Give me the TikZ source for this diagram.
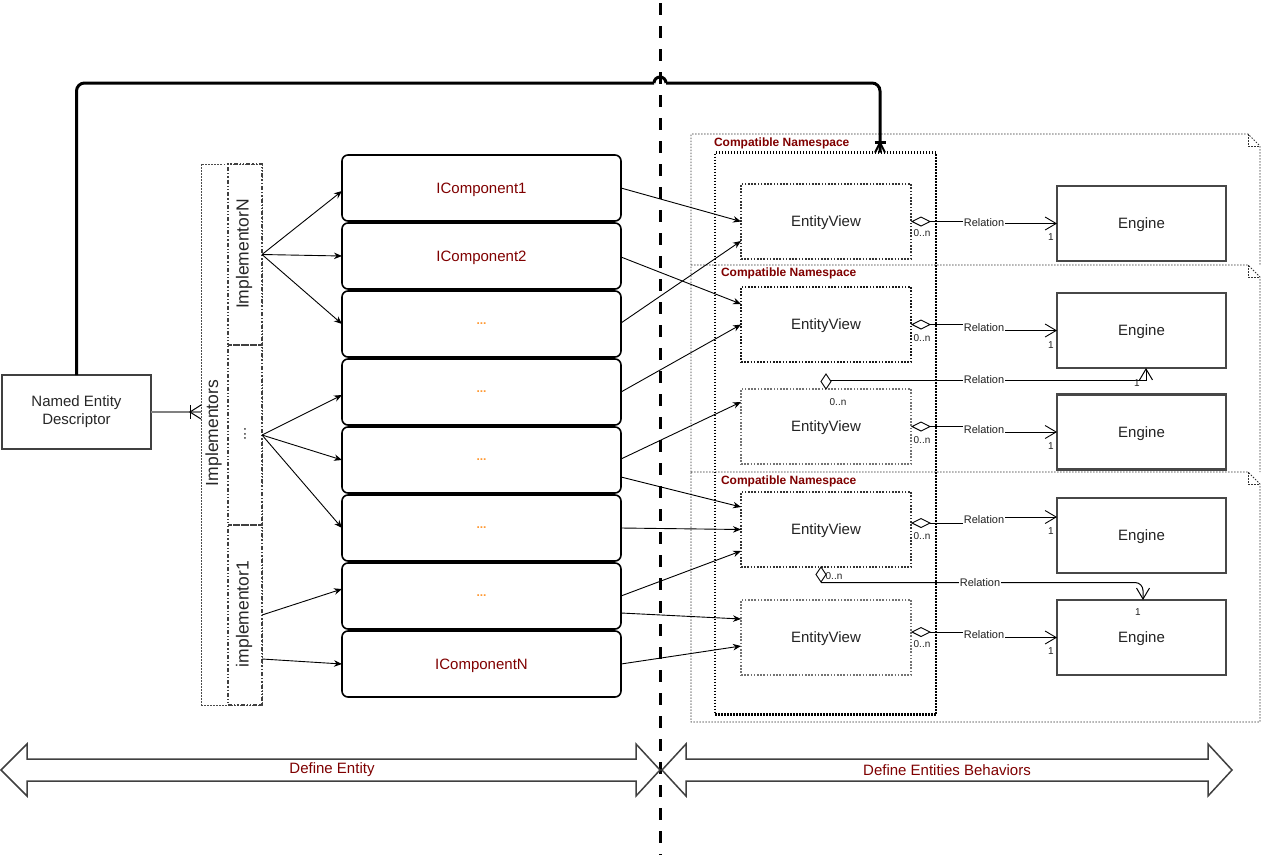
\documentclass[tikz,border=0pt]{standalone}
\usepackage{fontspec}
\setmainfont{Liberation Sans}
\usetikzlibrary{arrows.meta,calc}
\definecolor{dred}{HTML}{7F0000}
\definecolor{orng}{HTML}{FF9933}
\definecolor{ink}{HTML}{222222}
\begin{document}
\begin{tikzpicture}[x=1pt,y=-1pt,
  every node/.style={outer sep=0pt, inner sep=0pt},
  compbox/.style={draw=black, line width=1.6pt, rounded corners=6pt, minimum width=279pt, minimum height=66pt},
  ctext/.style={text=dred, text depth=0pt, font=\fontsize{15}{18}\selectfont},
  dtext/.style={text=orng, font=\bfseries\fontsize{12}{14}\selectfont},
  evbox/.style={draw=black!80, line width=1.6pt, dash pattern=on 1.6pt off 1.6pt, minimum width=170pt, minimum height=75pt, text=ink, text depth=0pt, font=\fontsize{15}{18}\selectfont},
  evlight/.style={evbox, draw=black!55},
  engbox/.style={draw=black!72, line width=2.2pt, minimum width=169pt, minimum height=75pt, text=ink, text depth=0pt, font=\fontsize{15}{18}\selectfont},
  nsinner/.style={draw=black, line width=2.2pt, dash pattern=on 1.5pt off 1.5pt, minimum width=221pt, minimum height=562pt},
  nsouter/.style={draw=black!80, line width=0.8pt, dash pattern=on 1.5pt off 1.5pt},
  nslabel/.style={anchor=west, text=dred, font=\bfseries\fontsize{12}{14}\selectfont},
  implouter/.style={draw=black!70, line width=0.9pt, dash pattern=on 1.5pt off 1.5pt, minimum width=61pt, minimum height=541pt},
  implinner/.style={draw=black!75, line width=1.3pt, dash pattern=on 4pt off 2pt on 1.3pt off 2pt on 1.3pt off 2pt, minimum width=34pt},
  impltext/.style={rotate=90, text=black!85, font=\fontsize{17.5}{20}\selectfont},
  arr/.style={draw=black, line width=0.9pt, -{Stealth[length=8pt,width=6.5pt]}},
  rel/.style={draw=black, line width=0.9pt, {Diamond[open,length=20pt,width=10pt]}-{Straight Barb[length=11pt,width=13pt]}},
  crel/.style={draw=black, line width=1pt, -{Straight Barb[length=11pt,width=13pt]}},
  rlabel/.style={fill=white, inner sep=1pt, text=ink, font=\fontsize{11}{13}\selectfont},
  mult/.style={text=ink, font=\fontsize{10}{12}\selectfont},
  topc/.style={draw=black, line width=3pt},
  divider/.style={draw=black, line width=3pt, dash pattern=on 12pt off 11pt},
  blockarr/.style={draw=black!75, line width=1.5pt, fill=white},
  btext/.style={text=dred, font=\fontsize{15}{18}\selectfont}
]
\useasboundingbox (0,0) rectangle (1262,855);

% outer namespace frames (shared edges drawn once)
\draw[nsouter] (691,265) -- (691,134) -- (1248,134) -- (1260,146) -- (1260,265);
\draw[nsouter] (1248,134) -- (1248,146) -- (1260,146);
\draw[nsouter] (691,472) -- (691,265) -- (1248,265) -- (1260,277) -- (1260,472);
\draw[nsouter] (1248,265) -- (1248,277) -- (1260,277);
\draw[nsouter] (691,472) -- (1248,472) -- (1260,484) -- (1260,722) -- (691,722) -- cycle;
\draw[nsouter] (1248,472) -- (1248,484) -- (1260,484);
\node[nslabel] (nsl1) at (714,143) {Compatible Namespace};
\node[nslabel] (nsl2) at (721,273) {Compatible Namespace};
\node[nslabel] (nsl3) at (721,481) {Compatible Namespace};

% inner namespace
\node[nsinner] (ns) at (825.5,433.5) {};

% entity views
\node[evbox] (ev1) at (826,221.5) {EntityView};
\node[evbox, draw=black!90] (ev2) at (826,324.5) {EntityView};
\node[evlight] (ev3) at (826,426.5) {EntityView};
\node[evbox] (ev4) at (826,529.5) {EntityView};
\node[evlight] (ev5) at (826,637.5) {EntityView};

% engines
\node[engbox] (e1) at (1141.5,223.5) {Engine};
\node[engbox] (e2) at (1141.5,330.5) {Engine};
\node[engbox] (e3) at (1141.5,432) {Engine};
\node[engbox] (e4) at (1141.5,535.5) {Engine};
\node[engbox] (e5) at (1141.5,637.5) {Engine};

% relations
\coordinate (a1) at (ev1.east); \coordinate (b1) at (e1.west);
\coordinate (a2) at (ev2.east); \coordinate (b2) at (e2.west);
\coordinate (a3) at (ev3.east); \coordinate (b3) at (e3.west);
\coordinate (a4) at ([yshift=6.5pt]ev4.east); \coordinate (b4) at ([yshift=18.5pt]e4.west);
\coordinate (a5) at ([yshift=5.5pt]ev5.east); \coordinate (b5) at (e5.west);
\foreach \i in {1,...,5}{
  \coordinate (m\i) at ($(a\i)!0.5!(b\i)$);
  \draw[rel] (a\i) -| (m\i) |- (b\i);
  \node[rlabel] (rl\i) at (m\i) {Relation};
}
\node[mult] (n1) at (922,233) {0..n}; \node[mult] (o1) at (1051,237) {1};
\node[mult] (n2) at (922,338) {0..n}; \node[mult] (o2) at (1051,345) {1};
\node[mult] (n3) at (922,440) {0..n}; \node[mult] (o3) at (1051,446) {1};
\node[mult] (n4) at (922,536) {0..n}; \node[mult] (o4) at (1051,531) {1};
\node[mult] (n5) at (922,644) {0..n}; \node[mult] (o5) at (1051,651) {1};

% cross relation EV3 -> Engine2
\draw[crel] ($(ev3.north)+(0,-9)$) -| ([xshift=4.5pt]e2.south);
\draw[line width=0.9pt, fill=white] (ev3.north) -- ++(5,-7.5) -- ++(-5,-7.5) -- ++(-5,7.5) -- cycle;
\node[rlabel] (rx1) at (984,380) {Relation};
\node[mult] (nx1) at (838,402) {0..n};
\node[mult] (ox1) at (1137,383) {1};

% cross relation EV4 -> Engine5
\draw[crel, rounded corners=8pt] ($(ev4.south)+(-5,15.5)$) -| ([xshift=1.5pt]e5.north);
\draw[line width=0.9pt, fill=white] ([xshift=-5pt]ev4.south) -- ++(5,7.5) -- ++(-5,7.5) -- ++(-5,-7.5) -- cycle;
\node[rlabel] (rx2) at (980,583) {Relation};
\node[mult] (nx2) at (834,576) {0..n};
\node[mult] (ox2) at (1138,612) {1};

% named entity descriptor
\node[draw=black!75, line width=1.5pt, minimum width=149pt, minimum height=74pt, align=center, text=black!85, font=\fontsize{15}{18}\selectfont] (ned) at (76.5,412) {Named Entity\\Descriptor};

% implementors
\node[implouter] (impl) at (231.5,434.5) {};
\node[implinner, minimum height=181pt] (implN) at (245,254.5) {};
\node[implinner, minimum height=180pt] (impld) at (245,435) {};
\node[implinner, minimum height=180pt] (impl1) at (245,615) {};
\node[impltext] (implt) at (213.5,433) {Implementors};
\node[impltext] (implNt) at (244,254) {ImplementorN};
\node[impltext, font=\fontsize{15}{18}\selectfont] (impldt) at (245,434) {...};
\node[impltext] (impl1t) at (244,614) {implementor1};

% NED -> implementors (crow's foot)
\coordinate (ic) at (ned.east -| impl.west);
\draw[draw=black!50, line width=1.6pt] (ned.east) -- (ic);
\draw[line width=1pt] ($(ic)+(-11,-7)$) -- ($(ic)+(-11,7)$);
\draw[line width=1pt] ($(ic)+(0,-7)$) -- ($(ic)+(-11,0)$) -- ($(ic)+(0,7)$);

% components
\node[compbox] (c1) at (481.5,188) {}; \node[ctext] at (c1) {IComponent1};
\node[compbox] (c2) at (481.5,256) {}; \node[ctext] at (c2) {IComponent2};
\node[compbox] (c3) at (481.5,324) {}; \node[dtext] at (c3) {...};
\node[compbox] (c4) at (481.5,392) {}; \node[dtext] at (c4) {...};
\node[compbox] (c5) at (481.5,460) {}; \node[dtext] at (c5) {...};
\node[compbox] (c6) at (481.5,528) {}; \node[dtext] at (c6) {...};
\node[compbox] (c7) at (481.5,596) {}; \node[dtext] at (c7) {...};
\node[compbox] (c8) at (481.5,664) {}; \node[ctext] at (c8) {IComponentN};

% implementor arrows
\draw[arr] (implN.east) -- ([yshift=-3pt]c1.west);
\draw[arr] (implN.east) -- (c2.west);
\draw[arr] (implN.east) -- (c3.west);
\draw[arr] (impld.east) -- ([yshift=-3pt]c4.west);
\draw[arr] (impld.east) -- (c5.west);
\draw[arr] (impld.east) -- (c6.west);
\draw[arr] (impl1.east) -- ([yshift=7pt]c7.west);
\draw[arr] ([yshift=-44pt]impl1.east) -- (c8.west);

% divider
\draw[divider] (660,3) -- (660,855);

% component -> entity view arrows
\draw[arr] (c1.east) -- (ev1.west);
\draw[arr] ([yshift=-1pt]c2.east) -- ([yshift=20.5pt]ev2.west);
\draw[arr] ([yshift=1pt]c3.east) -- ([yshift=-19.5pt]ev1.west);
\draw[arr] (c4.east) -- (ev2.west);
\draw[arr] ([yshift=1pt]c5.east) -- ([yshift=24.5pt]ev3.west);
\draw[arr] ([yshift=-17pt]c5.east) -- ([yshift=22.5pt]ev4.west);
\draw[arr] (c6.east) -- (ev4.west);
\draw[arr] (c7.east) -- ([yshift=-21.5pt]ev4.west);
\draw[arr] ([yshift=-17pt]c7.east) -- ([yshift=18.5pt]ev5.west);
\draw[arr] (c8.east) -- ([yshift=-8.5pt]ev5.west);

% top connector NED -> namespace
\coordinate (tc) at ([xshift=54.5pt]ns.north);
\draw[topc, rounded corners=8pt] (ned.north) |- (654,83);
\draw[topc] (654,83) arc[start angle=180, end angle=360, radius=6];
\draw[topc, rounded corners=8pt] (666,83) -| (tc);
\draw[line width=2.5pt] ($(tc)+(-5.5,-10)$) -- ($(tc)+(5.5,-10)$);
\draw[line width=2pt] ($(tc)+(-5,0)$) -- ($(tc)+(0,-10)$) -- ($(tc)+(5,0)$);

% bottom block arrows
\draw[blockarr] (1,770) -- (27,744) -- (27,759) -- (636,759) -- (636,744) -- (660,770) -- (636,796) -- (636,781) -- (27,781) -- (27,796) -- cycle;
\draw[blockarr] (662,770) -- (686,744) -- (686,759) -- (1208,759) -- (1208,744) -- (1232,770) -- (1208,796) -- (1208,781) -- (686,781) -- (686,796) -- cycle;
\node[btext] (bl) at (332,770) {Define Entity};
\node[btext] (br) at (947,770) {Define Entities Behaviors};
\end{tikzpicture}
\end{document}
